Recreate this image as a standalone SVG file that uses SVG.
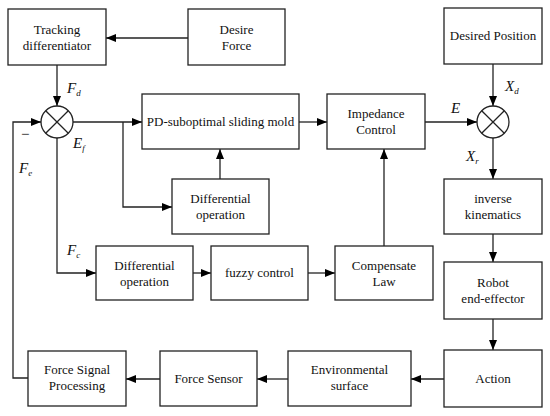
<svg xmlns="http://www.w3.org/2000/svg" width="550" height="416" viewBox="0 0 550 416">
<defs>
<marker id="ah" markerWidth="10" markerHeight="8" refX="10" refY="4" orient="auto" markerUnits="userSpaceOnUse">
<path d="M0,0 L10,4 L0,8 Z" fill="#000"/>
</marker>
<style>
.box{fill:#fff;stroke:#222;stroke-width:1.3}
.t{font-family:'Liberation Serif','Times New Roman',serif;font-size:13px;fill:#111;text-anchor:middle}
.v{font-family:'Liberation Serif','Times New Roman',serif;font-size:15px;font-style:italic;fill:#111}
.s{font-size:9px}
.c{fill:none;stroke:#222;stroke-width:1.3}
.a{marker-end:url(#ah)}
</style>
</defs>
<rect width="550" height="416" fill="#fff"/>
<g id="connectors">
<path class="c a" d="M188,38 H106"/>
<path class="c a" d="M57,65 V106"/>
<path class="c a" d="M73,122 H142"/>
<path class="c a" d="M123,122 V207 H172"/>
<path class="c a" d="M220,179 V149"/>
<path class="c a" d="M57,138 V273 H96"/>
<path class="c a" d="M193,273 H211"/>
<path class="c a" d="M308,273 H335"/>
<path class="c a" d="M384,246 V149"/>
<path class="c a" d="M299,122 H327"/>
<path class="c a" d="M425,122 H477"/>
<path class="c a" d="M493,64 V106"/>
<path class="c a" d="M493,138 V179"/>
<path class="c a" d="M493,234 V262"/>
<path class="c a" d="M493,319 V350"/>
<path class="c a" d="M444,379 H411"/>
<path class="c a" d="M288,379 H257"/>
<path class="c a" d="M160,379 H126"/>
<path class="c a" d="M28,378 H13 V122 H41"/>
</g>
<g id="sum1">
<circle class="c" cx="57" cy="122" r="16" style="fill:#fff"/>
<path class="c" d="M45.7,110.7 L68.3,133.3 M68.3,110.7 L45.7,133.3"/>
</g>
<g id="sum2">
<circle class="c" cx="493" cy="122" r="16" style="fill:#fff"/>
<path class="c" d="M481.7,110.7 L504.3,133.3 M504.3,110.7 L481.7,133.3"/>
</g>
<g id="labels">
<text class="v" x="67" y="93">F<tspan class="s" dy="3">d</tspan></text>
<text class="v" x="73" y="148">E<tspan class="s" dy="3">f</tspan></text>
<text class="v" x="21" y="139" style="font-style:normal">−</text>
<text class="v" x="19" y="173">F<tspan class="s" dy="3">e</tspan></text>
<text class="v" x="67" y="255">F<tspan class="s" dy="3">c</tspan></text>
<text class="v" x="451" y="113">E</text>
<text class="v" x="505" y="91">X<tspan class="s" dy="3">d</tspan></text>
<text class="v" x="466" y="161">X<tspan class="s" dy="3">r</tspan></text>
</g>
<g id="tracking">
<rect class="box" x="8" y="9" width="98" height="56"/>
<text class="t" x="57" y="34">Tracking</text>
<text class="t" x="57" y="50">differentiator</text>
</g>
<g id="desire-force">
<rect class="box" x="188" y="9" width="97" height="56"/>
<text class="t" x="236.5" y="34">Desire</text>
<text class="t" x="236.5" y="50">Force</text>
</g>
<g id="pd">
<rect class="box" x="142" y="94" width="157" height="55"/>
<text class="t" x="220.5" y="126">PD-suboptimal sliding mold</text>
</g>
<g id="diff1">
<rect class="box" x="172" y="179" width="97" height="55"/>
<text class="t" x="220.5" y="203">Differential</text>
<text class="t" x="220.5" y="219">operation</text>
</g>
<g id="impedance">
<rect class="box" x="327" y="94" width="98" height="55"/>
<text class="t" x="376" y="118">Impedance</text>
<text class="t" x="376" y="134">Control</text>
</g>
<g id="desired-position">
<rect class="box" x="444" y="8" width="98" height="56"/>
<text class="t" x="493" y="40">Desired Position</text>
</g>
<g id="diff2">
<rect class="box" x="96" y="246" width="97" height="54"/>
<text class="t" x="144.5" y="270">Differential</text>
<text class="t" x="144.5" y="286">operation</text>
</g>
<g id="fuzzy">
<rect class="box" x="211" y="246" width="97" height="54"/>
<text class="t" x="259.5" y="277">fuzzy control</text>
</g>
<g id="compensate">
<rect class="box" x="335" y="246" width="98" height="54"/>
<text class="t" x="384" y="270">Compensate</text>
<text class="t" x="384" y="286">Law</text>
</g>
<g id="inverse">
<rect class="box" x="444" y="179" width="98" height="55"/>
<text class="t" x="493" y="203">inverse</text>
<text class="t" x="493" y="219">kinematics</text>
</g>
<g id="robot">
<rect class="box" x="444" y="262" width="98" height="57"/>
<text class="t" x="493" y="287">Robot</text>
<text class="t" x="493" y="303">end-effector</text>
</g>
<g id="action">
<rect class="box" x="444" y="350" width="98" height="57"/>
<text class="t" x="493" y="383">Action</text>
</g>
<g id="environment">
<rect class="box" x="288" y="351" width="123" height="55"/>
<text class="t" x="349.5" y="374">Environmental</text>
<text class="t" x="349.5" y="390">surface</text>
</g>
<g id="force-sensor">
<rect class="box" x="160" y="351" width="97" height="55"/>
<text class="t" x="208.5" y="383">Force Sensor</text>
</g>
<g id="force-signal">
<rect class="box" x="28" y="351" width="98" height="55"/>
<text class="t" x="77" y="374">Force Signal</text>
<text class="t" x="77" y="390">Processing</text>
</g>
</svg>
